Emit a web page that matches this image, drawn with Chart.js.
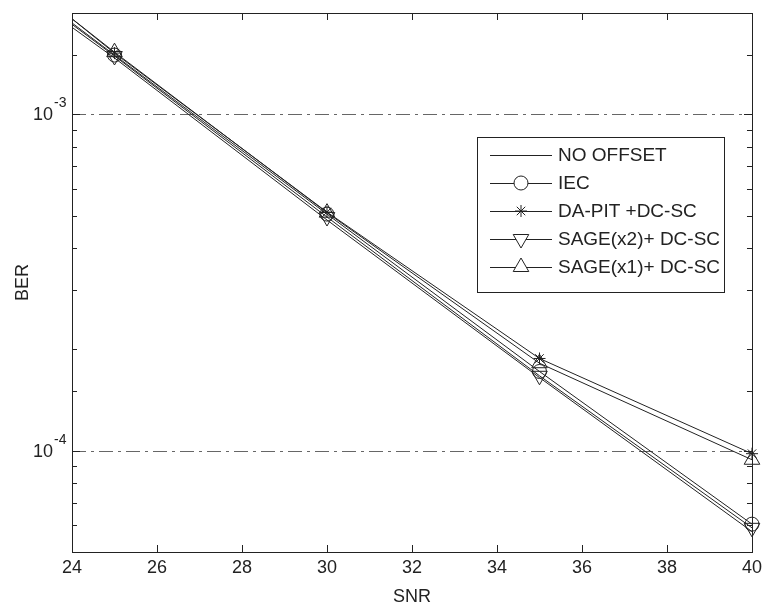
<!DOCTYPE html>
<html>
<head>
<meta charset="utf-8">
<script src="https://cdn.jsdelivr.net/npm/chart.js@4.4.1/dist/chart.umd.min.js"></script>
<style>
  html, body { margin: 0; padding: 0; background: #fff; }
</style>
</head>
<body>
<div style="width:767px;height:603px"><canvas id="myChart" width="767" height="603"></canvas></div>
<script>
// Datos (SNR vs BER)
var snr = [20, 25, 30, 35, 40];
var berNoOffset = [4.2e-3, 1.47e-3, 4.85e-4, 1.65e-4, 5.75e-5];
var berIec = [4.5e-3, 1.50e-3, 5.05e-4, 1.72e-4, 6.05e-5];
var berDaPit = [4.9e-3, 1.52e-3, 5.12e-4, 1.88e-4, 9.8e-5];
var berSage2 = [4.4e-3, 1.49e-3, 4.95e-4, 1.67e-4, 5.9e-5];
var berSage1 = [4.8e-3, 1.53e-3, 5.10e-4, 1.82e-4, 9.4e-5];

var seriesNames = ["NO OFFSET", "IEC", "DA-PIT +DC-SC", "SAGE(x2)+ DC-SC", "SAGE(x1)+ DC-SC"];
var xTicks = [24, 26, 28, 30, 32, 34, 36, 38, 40];
var yMajor = [1e-3, 1e-4];
var yMajorExp = ["-3", "-4"];

var axisFont = "'Liberation Sans Narrow', 'Liberation Sans', Arial, sans-serif";
var legendFont = "'Liberation Sans', Arial, sans-serif";
var ink = "#222";

function pts(ys) {
  return snr.map(function (x, i) { return { x: x, y: ys[i] }; });
}

// estilos de los marcadores
var markers = [
  { style: false, radius: 0, rotation: 0 },
  { style: "circle", radius: 7, rotation: 0 },
  { style: "star", radius: 6, rotation: 0 },
  { style: "triangle", radius: 9, rotation: 180 },
  { style: "triangle", radius: 9, rotation: 0 },
];

var allSeries = [berNoOffset, berIec, berDaPit, berSage2, berSage1];

var datasets = allSeries.map(function (ys, i) {
  return {
    label: seriesNames[i],
    data: pts(ys),
    borderColor: ink,
    borderWidth: 1,
    pointStyle: markers[i].style,
    pointRadius: markers[i].radius,
    pointRotation: markers[i].rotation,
    pointBorderColor: ink,
    pointBackgroundColor: "rgba(0,0,0,0)",
    pointBorderWidth: 1,
    tension: 0,
    clip: { left: 0, top: 0, right: 12, bottom: 12 },
  };
});

// Plugin: marco, ticks hacia dentro, rejilla y leyenda estilo MATLAB
var matlabAxes = {
  id: "matlabAxes",
  beforeDatasetsDraw: function (chart) {
    var ctx = chart.ctx, a = chart.chartArea, y = chart.scales.y;
    ctx.save();
    ctx.strokeStyle = "#666";
    ctx.lineWidth = 1;
    ctx.setLineDash([14, 5, 3, 5]);
    yMajor.forEach(function (v) {
      var py = Math.round(y.getPixelForValue(v)) + 0.5;
      ctx.beginPath();
      ctx.moveTo(a.left, py);
      ctx.lineTo(a.right, py);
      ctx.stroke();
    });
    ctx.restore();
  },
  afterDraw: function (chart) {
    var ctx = chart.ctx, a = chart.chartArea, x = chart.scales.x, y = chart.scales.y;
    ctx.save();
    ctx.strokeStyle = ink;
    ctx.lineWidth = 1;
    ctx.setLineDash([]);
    // ticks eje x
    xTicks.forEach(function (v) {
      var px = Math.round(x.getPixelForValue(v)) + 0.5;
      ctx.beginPath();
      ctx.moveTo(px, a.bottom); ctx.lineTo(px, a.bottom - 7);
      ctx.moveTo(px, a.top); ctx.lineTo(px, a.top + 7);
      ctx.stroke();
    });
    // ticks eje y (log)
    y.ticks.forEach(function (t) {
      var lg = Math.log10(t.value);
      var major = Math.abs(lg - Math.round(lg)) < 1e-6;
      var len = major ? 8 : 5;
      var py = Math.round(y.getPixelForValue(t.value)) + 0.5;
      ctx.beginPath();
      ctx.moveTo(a.left, py); ctx.lineTo(a.left + len, py);
      ctx.moveTo(a.right, py); ctx.lineTo(a.right - len, py);
      ctx.stroke();
    });
    // marco
    ctx.strokeRect(Math.round(a.left) + 0.5, Math.round(a.top) + 0.5,
      Math.round(a.right - a.left), Math.round(a.bottom - a.top));

    // etiquetas 10^n
    ctx.fillStyle = ink;
    yMajor.forEach(function (v, i) {
      var py = y.getPixelForValue(v);
      ctx.font = "18px " + axisFont;
      ctx.textAlign = "right";
      ctx.textBaseline = "middle";
      ctx.fillText("10", 53, py + 1);
      ctx.font = "14px " + axisFont;
      ctx.textAlign = "left";
      ctx.fillText(yMajorExp[i], 54, py - 11);
    });

    // leyenda
    var lx = 477, ly = 137, lw = 247, lh = 155;
    ctx.fillStyle = "#fff";
    ctx.fillRect(lx, ly, lw, lh);
    ctx.strokeStyle = ink;
    ctx.strokeRect(lx + 0.5, ly + 0.5, lw, lh);
    ctx.font = "19px " + legendFont;
    ctx.textAlign = "left";
    ctx.textBaseline = "middle";
    seriesNames.forEach(function (name, i) {
      var ry = 155 + i * 28;
      ctx.beginPath();
      ctx.moveTo(490, ry + 0.5);
      ctx.lineTo(552, ry + 0.5);
      ctx.stroke();
      if (markers[i].style) {
        ctx.fillStyle = "#fff";
        ctx.strokeStyle = ink;
        Chart.helpers.drawPoint(ctx, {
          pointStyle: markers[i].style,
          radius: markers[i].radius,
          rotation: markers[i].rotation,
          borderWidth: 1,
        }, 521, ry);
      }
      ctx.fillStyle = ink;
      ctx.fillText(name, 558, ry + 1);
    });
    ctx.restore();
  },
};

var ctx = document.getElementById("myChart").getContext("2d");

var myChart = new Chart(ctx, {
  type: "line",
  data: { datasets: datasets },
  options: {
    responsive: false,
    animation: false,
    layout: { padding: { top: 13, right: 10, left: 0, bottom: 0 } },
    plugins: { legend: { display: false }, tooltip: { enabled: false } },
    scales: {
      x: {
        type: "linear",
        min: 24,
        max: 40,
        afterFit: function (s) { s.height = 51; },
        afterBuildTicks: function (s) {
          s.ticks = xTicks.map(function (v) { return { value: v }; });
        },
        ticks: { color: ink, font: { size: 18, family: axisFont }, padding: 5, maxRotation: 0 },
        grid: { display: false, drawTicks: false },
        border: { display: false },
        title: {
          display: true, text: "SNR", color: ink,
          font: { size: 18, family: axisFont, lineHeight: 1 },
          padding: { top: 0, bottom: -3 },
        },
      },
      y: {
        type: "logarithmic",
        min: 5e-5,
        max: 2e-3,
        afterFit: function (s) { s.width = 72; },
        ticks: { display: false },
        grid: { display: false },
        border: { display: false },
        title: {
          display: true, text: "BER", color: ink,
          font: { size: 18, family: axisFont, lineHeight: 1 },
          padding: { top: 14, bottom: 0 },
        },
      },
    },
  },
  plugins: [matlabAxes],
});
</script>
</body>
</html>
